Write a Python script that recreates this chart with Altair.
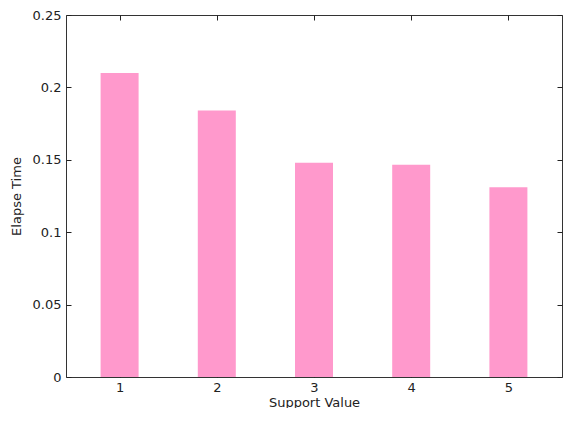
import altair as alt
import pandas as pd

support = [1, 2, 3, 4, 5]
elapse = [0.21, 0.184, 0.148, 0.1465, 0.131]
y_ticks = [0, 0.05, 0.1, 0.15, 0.2, 0.25]

df = pd.DataFrame({"support": support, "elapse": elapse})

FONT = "DejaVu Sans"
TXT = "#222222"

xs = alt.Scale(domain=[0.5, 5.5], nice=False, zero=False)
ys = alt.Scale(domain=[0, 0.25], nice=False)

base = alt.Chart(df)

main = base.mark_bar(size=38, color="#ff99cc").encode(
    x=alt.X("support:Q", scale=xs, title="Support Value",
            axis=alt.Axis(orient="bottom", values=support, format="d", domain=False,
                          offset=-5, tickSize=5, labelPadding=4, titlePadding=2,
                          grid=False)),
    y=alt.Y("elapse:Q", scale=ys, title="Elapse Time",
            axis=alt.Axis(orient="left", values=y_ticks, domain=False,
                          offset=-5, tickSize=5, labelPadding=5, titlePadding=9,
                          grid=False,
                          labelExpr="datum.value == 0 ? '0' : format(datum.value, '.2~f')")),
)

mirror = base.mark_bar(size=38, color="#ff99cc", opacity=0).encode(
    x=alt.X("support:Q", scale=xs, title=None,
            axis=alt.Axis(orient="top", values=support, domain=False, labels=False,
                          offset=-5, tickSize=5, grid=False)),
    y=alt.Y("elapse:Q", scale=ys, title=None,
            axis=alt.Axis(orient="right", values=y_ticks, domain=False, labels=False,
                          offset=-5, tickSize=5, grid=False)),
)

chart = alt.layer(main, mirror).resolve_axis(x="independent", y="independent").properties(
    width=496, height=362,
    autosize=alt.AutoSizeParams(type="none"),
    padding={"left": 58, "top": 7, "right": 1, "bottom": 31},
).configure_view(stroke="#333333", strokeWidth=1).configure_axis(
    labelFont=FONT, titleFont=FONT, labelFontSize=13, titleFontSize=13,
    labelColor=TXT, titleColor=TXT, titleFontWeight="normal",
    tickColor="#222222", tickWidth=1,
)

chart.save("out.html", embed_options={"renderer": "svg", "actions": False})
